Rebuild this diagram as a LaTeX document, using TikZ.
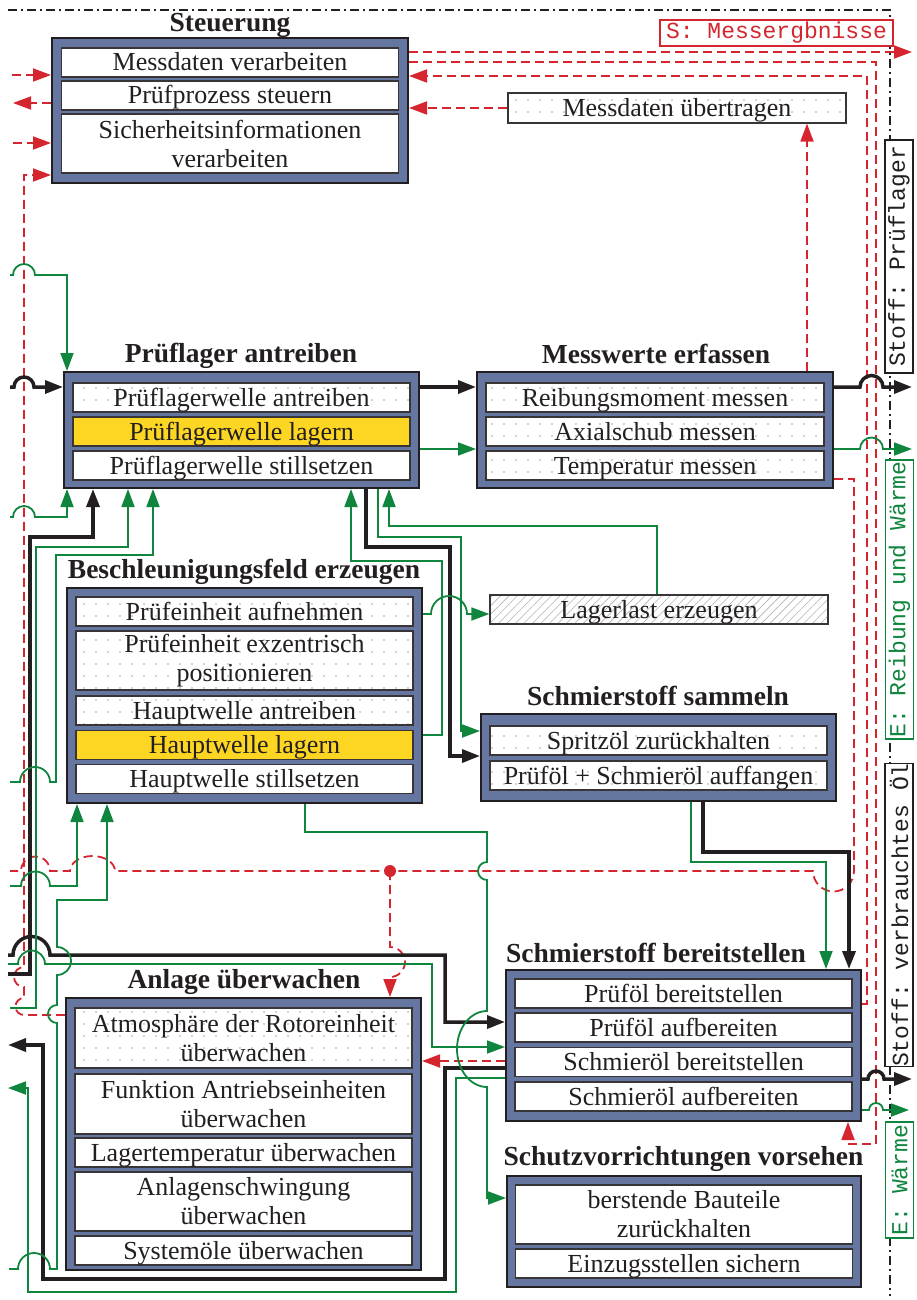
\documentclass[tikz,border=0pt]{standalone}
\usepackage{fontspec}
\setmainfont{Liberation Serif}
\setmonofont{Liberation Mono}
\usetikzlibrary{arrows.meta,patterns.meta}
\definecolor{bbox}{RGB}{101,119,160}
\definecolor{ylw}{RGB}{252,214,35}
\definecolor{rd}{RGB}{213,38,48}
\definecolor{gn}{RGB}{16,133,62}
\definecolor{bk}{RGB}{35,31,32}
\newcommand\rowfont{\fontsize{26}{29}\selectfont}
\newcommand\ttlfont{\fontsize{27.5}{30}\selectfont\bfseries}
\newcommand\lblfont{\ttfamily\fontsize{23}{26}\selectfont}
\begin{document}
\begin{tikzpicture}[x=1pt,y=-1pt,
  outerbox/.style={draw=bk,line width=2pt,fill=bbox,inner sep=0pt},
  rowbox/.style={draw=bk!90,line width=1.3pt,fill=white,inner sep=0pt,minimum width=337pt,minimum height=29pt,align=center,font=\rowfont,text=bk},
  sl/.style={text height=22pt,text depth=5pt},
  dbl/.style={minimum height=59pt},
  dotfill/.style={preaction={fill=white},pattern={Dots[distance=12pt,radius=0.8pt]},pattern color=black!35},
  hatchfill/.style={preaction={fill=white},pattern={Lines[angle=45,distance=6pt,line width=0.6pt]},pattern color=black!30},
  yfill/.style={fill=ylw},
  ttl/.style={font=\ttlfont,anchor=base,inner sep=0pt,text=bk},
  lbl/.style={font=\lblfont,fill=white,line width=1.3pt,inner sep=0pt},
  arr/.style={-{Triangle[length=18pt,width=13pt]}},
  mat/.style={draw=bk,line width=3.5pt},
  en/.style={draw=gn,line width=1.8pt},
  inf/.style={draw=rd,line width=1.8pt,dash pattern=on 9pt off 5pt},
  bnd/.style={draw=bk,line width=1.4pt,dash pattern=on 9pt off 4pt on 2pt off 4pt}]
\useasboundingbox (0,0) rectangle (917,1300);
% system boundary
\draw[bnd] (8,10) -- (890,10) -- (890,1296);
% Steuerung
\node[outerbox,minimum width=356pt,minimum height=145pt] (st) at (230,110.5) {};
\node[rowbox,sl] (st1) at (230,62.5) {Messdaten verarbeiten};
\node[rowbox,sl] (st2) at (230,95.5) {Prüfprozess steuern};
\node[rowbox,dbl] (st3) at (230,143.5) {Sicherheitsinformationen\\verarbeiten};
\node[ttl] (t1) at (230,32) {Steuerung};
% Pruflager antreiben
\node[outerbox,minimum width=355pt,minimum height=116pt] (pa) at (241.5,430) {};
\node[rowbox,sl,dotfill] (pa1) at (241.5,397.5) {Prüflagerwelle antreiben};
\node[rowbox,sl,yfill] (pa2) at (241.5,431.5) {Prüflagerwelle lagern};
\node[rowbox,sl] (pa3) at (241.5,465.5) {Prüflagerwelle stillsetzen};
\node[ttl] (t2) at (241,362) {Prüflager antreiben};
% Messwerte erfassen
\node[outerbox,minimum width=356pt,minimum height=116pt] (mw) at (655,430) {};
\node[rowbox,sl,dotfill,minimum width=338pt] (mw1) at (655,397.5) {Reibungsmoment messen};
\node[rowbox,sl,dotfill,minimum width=338pt] (mw2) at (655,431.5) {Axialschub messen};
\node[rowbox,sl,dotfill,minimum width=338pt] (mw3) at (655,465.5) {Temperatur messen};
\node[ttl] (t3) at (656,363) {Messwerte erfassen};
% Messdaten uebertragen
\node[rowbox,sl,dotfill,minimum width=338pt,minimum height=30pt,line width=1.2pt] (mu) at (677,108) {Messdaten übertragen};
% Beschleunigungsfeld
\node[outerbox,minimum width=355pt,minimum height=215pt] (bf) at (244.5,695.5) {};
\node[rowbox,sl,dotfill] (bf1) at (244.5,611.5) {Prüfeinheit aufnehmen};
\node[rowbox,dotfill,dbl] (bf2) at (244.5,660.5) {Prüfeinheit exzentrisch\\positionieren};
\node[rowbox,sl,dotfill] (bf3) at (244.5,710.5) {Hauptwelle antreiben};
\node[rowbox,sl,yfill] (bf4) at (244.5,745) {Hauptwelle lagern};
\node[rowbox,sl] (bf5) at (244.5,779) {Hauptwelle stillsetzen};
\node[ttl] (t4) at (244,578) {Beschleunigungsfeld erzeugen};
% Lagerlast
\node[rowbox,sl,hatchfill,minimum width=338pt,line width=1.2pt] (ll) at (659,609.5) {Lagerlast erzeugen};
% Schmierstoff sammeln
\node[outerbox,minimum width=355pt,minimum height=87pt] (ss) at (658.5,757.5) {};
\node[rowbox,sl,dotfill] (ss1) at (658.5,740.5) {Spritzöl zurückhalten};
\node[rowbox,sl,dotfill] (ss2) at (658.5,775.5) {Prüföl + Schmieröl auffangen};
\node[ttl] (t5) at (658,705) {Schmierstoff sammeln};
% Schmierstoff bereitstellen
\node[outerbox,minimum width=355pt,minimum height=151pt] (sb) at (683.5,1045.5) {};
\node[rowbox,sl] (sb1) at (683.5,993.5) {Prüföl bereitstellen};
\node[rowbox,sl] (sb2) at (683.5,1027.5) {Prüföl aufbereiten};
\node[rowbox,sl] (sb3) at (683.5,1062) {Schmieröl bereitstellen};
\node[rowbox,sl] (sb4) at (683.5,1096.5) {Schmieröl aufbereiten};
\node[ttl] (t6) at (656,962) {Schmierstoff bereitstellen};
% Schutzvorrichtungen
\node[outerbox,minimum width=354pt,minimum height=111pt] (sv) at (684,1231.5) {};
\node[rowbox,dbl] (sv1) at (684,1214.5) {berstende Bauteile\\zurückhalten};
\node[rowbox,sl] (sv2) at (684,1263.5) {Einzugsstellen sichern};
\node[ttl] (t7) at (683.5,1165) {Schutzvorrichtungen vorsehen};
% Anlage ueberwachen
\node[outerbox,minimum width=355pt,minimum height=272pt] (au) at (243.5,1134) {};
\node[rowbox,dotfill,minimum height=60pt] (au1) at (243.5,1038) {Atmosphäre der Rotoreinheit\\überwachen};
\node[rowbox,minimum height=60pt] (au2) at (243.5,1104) {Funktion Antriebseinheiten\\überwachen};
\node[rowbox,sl] (au3) at (243.5,1152.5) {Lagertemperatur überwachen};
\node[rowbox,dbl] (au4) at (243.5,1201.5) {Anlagenschwingung\\überwachen};
\node[rowbox,sl] (au5) at (243.5,1250.5) {Systemöle überwachen};
\node[ttl] (t8) at (244,988) {Anlage überwachen};
% boundary labels
\node[lbl,draw=rd,text=rd,minimum width=233pt,minimum height=26pt] (lS) at (776.5,33) {S: Messergbnisse};
\node[lbl,draw=bk,text=bk,rotate=90,minimum width=233pt,minimum height=28pt] (lP) at (899,256.5) {Stoff: Prüflager};
\node[lbl,draw=gn,text=gn,rotate=90,minimum width=279pt,minimum height=28pt] (lR) at (899.5,599.5) {E: Reibung und Wärme};
\node[lbl,draw=bk,text=bk,rotate=90,minimum width=300pt,minimum height=28pt] (lO) at (899,915) {Stoff: verbrauchtes Öl};
\node[lbl,draw=gn,text=gn,rotate=90,minimum width=116pt,minimum height=28pt] (lW) at (899.5,1180) {E: Wärme};
% ---------- information flows (red) ----------
\draw[inf,arr] (12,75) -- (st.west|-0,75);
\draw[inf,arr] (st.west|-0,103) -- (13,103);
\draw[inf,arr] (13,143) -- (st.west|-0,143);
\draw[inf,arr] (au.west|-0,1015) -- (24,1015) arc[start angle=90,end angle=270,radius=8.5] -- (24,987) arc[start angle=90,end angle=270,radius=10] -- (24,175) -- (st.west|-0,175);
\draw[inf,arr] (st.east|-0,52) -- (912,52);
\draw[inf,arr] (st.east|-0,62) -- (876,62) -- (876,1144) -- (848,1144) -- (sb.south-|848,0);
\draw[inf,arr] (sb.east|-0,1004) -- (867,1004) -- (867,76) -- (st.east|-0,76);
\draw[inf,arr] (mu.west) -- (st.east|-mu.west);
\draw[inf,arr] (mw.north-|807,0) -- (mu.south-|807,0);
\coordinate (rj) at (390,871);
\draw[inf] (mw.east|-0,479) -- (854,479) -- (854,871) arc[start angle=0,end angle=180,radius=20.5] -- (rj) -- (115,871) arc[start angle=0,end angle=-180,x radius=22.5,y radius=15] -- (50,871) arc[start angle=0,end angle=-180,radius=14.5] -- (10,871);
\fill[rd] (rj) circle[radius=6];
\draw[inf,arr] (rj) -- (390,947) arc[start angle=-90,end angle=90,radius=15] -- (au.north-|390,0);
\draw[inf,arr] (sb.west|-0,1061) -- (au.east|-0,1061);
% ---------- material flows (black) ----------
\draw[mat,arr] (10,387) -- (14,387) arc[start angle=180,end angle=360,radius=10] -- (pa.west|-0,387);
\draw[mat,arr] (pa.east|-0,387) -- (mw.west|-0,387);
\draw[mat,arr] (mw.east|-0,387) -- (860,387) arc[start angle=180,end angle=360,radius=11.5] -- (912,387);
\draw[mat,arr] (8,974) -- (30,974) -- (30,537) -- (93,537) -- (pa.south-|93,0);
\draw[mat,arr] (pa.south-|366,0) -- (366,547) -- (450,547) -- (450,756) -- (ss.west|-0,756);
\draw[mat,arr] (ss.south-|703,0) -- (703,852) -- (849,852) -- (sb.north-|849,0);
\draw[mat,arr] (sb.east|-0,1079) -- (868,1079) arc[start angle=180,end angle=360,radius=8] -- (912,1079);
\draw[mat,arr] (8,955) -- (13,955) arc[start angle=180,end angle=360,radius=18.5] -- (445,955) -- (445,1022) -- (sb.west|-0,1022);
\draw[mat,arr] (sb.west|-0,1068) -- (445,1068) -- (445,1279) -- (43,1279) -- (43,1045) -- (8,1045);
% ---------- energy flows (green) ----------
\draw[en,arr] (10,275) -- (13,275) arc[start angle=180,end angle=360,radius=11] -- (67,275) -- (pa.north-|67,0);
\draw[en,arr] (10,517) -- (13,517) arc[start angle=180,end angle=360,radius=11] -- (67,517) -- (pa.south-|67,0);
\draw[en,arr] (10,1008) -- (36,1008) -- (36,547) -- (128,547) -- (pa.south-|128,0);
\draw[en,arr] (10,782) -- (20,782) arc[start angle=180,end angle=360,radius=15] -- (56,782) -- (56,555) -- (153,555) -- (pa.south-|153,0);
\draw[en,arr] (bf.east|-0,735) -- (442,735) -- (442,561) -- (351,561) -- (pa.south-|351,0);
\draw[en,arr] (pa.south-|378,0) -- (378,537) -- (461,537) -- (461,731) -- (ss.west|-0,731);
\draw[en,arr] (ll.north-|657,0) -- (657,526) -- (389,526) -- (pa.south-|389,0);
\draw[en,arr] (bf.east|-0,614) -- (431,614) arc[start angle=180,end angle=360,radius=18] -- (ll.west|-0,614);
\draw[en,arr] (pa.east|-0,449) -- (mw.west|-0,449);
\draw[en,arr] (mw.east|-0,449) -- (860,449) arc[start angle=180,end angle=360,radius=11.5] -- (912,449);
\draw[en,arr] (ss.south-|691,0) -- (691,862) -- (826,862) -- (sb.north-|826,0);
\draw[en,arr] (bf.south-|305,0) -- (305,832) -- (487,832) -- (487,862) arc[start angle=270,end angle=90,radius=9] -- (487,1011) arc[start angle=270,end angle=90,x radius=30,y radius=38] -- (487,1198) -- (sv.west|-0,1198);
\draw[en,arr] (8,964) -- (18,964) arc[start angle=180,end angle=360,radius=13.5] -- (432,964) -- (432,1047) -- (sb.west|-0,1047);
\draw[en,arr] (9,1269) -- (18,1269) arc[start angle=180,end angle=360,radius=16] -- (57,1269) -- (57,1023) arc[start angle=90,end angle=270,radius=9] -- (57,975) arc[start angle=90,end angle=-90,radius=14] -- (57,900) -- (107,900) -- (bf.south-|107,0);
\draw[en,arr] (10,886) -- (21,886) arc[start angle=180,end angle=360,radius=14.5] -- (77,886) -- (bf.south-|77,0);
\draw[en,arr] (sb.west|-0,1078) -- (456,1078) -- (456,1292) -- (28,1292) -- (28,1088) -- (8,1088);
\draw[en,arr] (sb.east|-0,1110) -- (869,1110) arc[start angle=180,end angle=360,radius=7] -- (909,1110);
\end{tikzpicture}
\end{document}
